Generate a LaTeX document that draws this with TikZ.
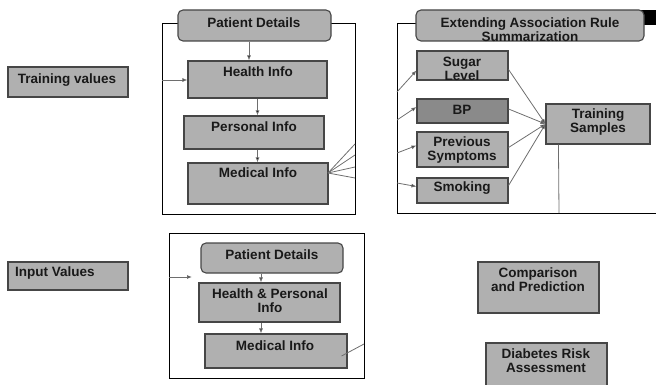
\documentclass[tikz,border=0pt]{standalone}
\usepackage{fontspec}
\setmainfont{Liberation Sans}
\usetikzlibrary{fit,arrows.meta}
\definecolor{boxgray}{RGB}{176,176,176}
\definecolor{bpgray}{RGB}{138,138,138}
\definecolor{bordercol}{RGB}{70,70,70}
\definecolor{linegray}{RGB}{110,110,110}
\tikzset{
  box/.style={draw=bordercol, fill=boxgray, line width=1.1pt, inner sep=0pt},
  rbox/.style={box, rounded corners=5pt},
  frame/.style={draw=black, line width=1pt},
  conn/.style={draw=linegray, line width=0.8pt},
  arr/.style={conn, -{Latex[length=5pt,width=4pt,fill=black]}},
  txt/.style={font=\bfseries\fontsize{13.5}{14}\selectfont, align=center, inner sep=0pt, text=black!90},
}
\begin{document}
\begin{tikzpicture}[x=1pt,y=-1pt]
\useasboundingbox (0,0) rectangle (656,385);
% ---------- left labels
\node[box, fit={(8,67) (128,97)}] (tv) {};
\node[txt] (tvT) at (67,80) {Training values};
\node[box, fit={(8,262) (128,290)}] (iv) {};
\node[txt, anchor=west] (ivT) at (15,273) {Input Values};
% ---------- top-left panel
\draw[frame] (162,24) rectangle (355,214);
\node[rbox, fit={(178,10) (331,41)}] (pd1) {};
\node[txt] (pd1T) at (254,23) {Patient Details};
\node[box, fit={(188,61) (327,98)}] (hi) {};
\node[txt] (hiT) at (258,72) {Health Info};
\node[box, fit={(184,116) (324,149)}] (pi) {};
\node[txt] (piT) at (254,127) {Personal Info};
\node[box, fit={(188,163) (328,204)}] (mi) {};
\node[txt] (miT) at (258,173) {Medical Info};
\coordinate (fL) at (162,80);
\draw[arr] ([xshift=-5.5pt]pd1.south) -- ([xshift=-5.5pt]pd1.south |- hi.north);
\draw[arr] (hi.south) -- (hi.south |- pi.north);
\draw[arr] (pi.south -| hi.south) -- (mi.north -| hi.south);
\draw[arr] (fL) -- (fL -| hi.west);
\coordinate (mo) at (328,173);
\coordinate (f1) at (355,144);
\coordinate (f2) at (355,155);
\coordinate (f3) at (355,167);
\coordinate (f4) at (355,178);
\foreach \f in {f1,f2,f3,f4} \draw[conn] (mo) -- (\f);
% ---------- top-right panel
\fill[black] (640,10) rectangle (656,25);
\draw[frame] (416,24) -- (397,24) -- (397,213) -- (656,213);
\node[rbox, fit={(416,10) (644,41)}] (ea) {};
\node[txt] (eaT) at (530,30) {Extending Association Rule\\Summarization};
\node[box, fit={(417,51) (508,80)}] (sl) {};
\node[txt] (slT) at (462,69) {Sugar\\Level};
\node[box, fill=bpgray, fit={(417,99) (508,123)}] (bp) {};
\node[txt] (bpT) at (462,110) {BP};
\node[box, fit={(417,132) (508,167)}] (ps) {};
\node[txt] (psT) at (462,150) {Previous\\Symptoms};
\node[box, fit={(417,178) (508,203)}] (sm) {};
\node[txt] (smT) at (462,188) {Smoking};
\node[box, fit={(546,104) (650,144)}] (ts) {};
\node[txt] (tsT) at (598,122) {Training\\Samples};
\coordinate (g1) at (397,92);
\coordinate (g2) at (397,120);
\coordinate (g3) at (397,153);
\coordinate (g4) at (397,183);
\draw[arr] (g1) -- ([yshift=-5pt]sl.west);
\draw[arr] (g2) -- ([yshift=4pt]bp.west);
\draw[arr] (g3) -- ([yshift=4pt]ps.west);
\draw[arr] (g4) -- ([yshift=4pt]sm.west);
\draw[arr] ([yshift=-4pt]sl.east) -- (ts.west);
\draw[arr] ([yshift=2pt]bp.east) -- (ts.west);
\draw[arr] ([yshift=2pt]ps.east) -- (ts.west);
\draw[arr] ([yshift=5pt]sm.east) -- (ts.west);
\coordinate (tb) at (559,213);
\draw[conn] ([xshift=13pt]ts.south west) -- (tb);
% ---------- bottom-left panel
\draw[frame] (169,233) rectangle (364,378);
\node[rbox, fit={(201,243) (343,273)}] (pd2) {};
\node[txt] (pd2T) at (272,255) {Patient Details};
\node[box, fit={(199,283) (340,322)}] (hp) {};
\node[txt] (hpT) at (270,301) {Health \& Personal\\Info};
\node[box, fit={(205,334) (347,368)}] (mi2) {};
\node[txt] (mi2T) at (275,346) {Medical Info};
\coordinate (fL2) at (169,277);
\coordinate (fE2) at (192,277);
\draw[arr] (fL2) -- (fE2);
\draw[arr] ([xshift=-11pt]pd2.south) -- ([xshift=-11pt]pd2.south |- hp.north);
\draw[arr] ([xshift=-8.5pt]hp.south) -- ([xshift=-8.5pt]hp.south |- mi2.north);
\coordinate (fR2) at (364,344);
\draw[conn] ([xshift=-6pt,yshift=-5pt]mi2.east) -- (fR2);
% ---------- bottom-right
\node[box, fit={(478,262) (599,313)}] (cp) {};
\node[txt] (cpT) at (538,280) {Comparison\\and Prediction};
\node[box, fit={(486,343) (607,390)}] (dr) {};
\node[txt] (drT) at (546,361) {Diabetes Risk\\Assessment};
\end{tikzpicture}
\end{document}
